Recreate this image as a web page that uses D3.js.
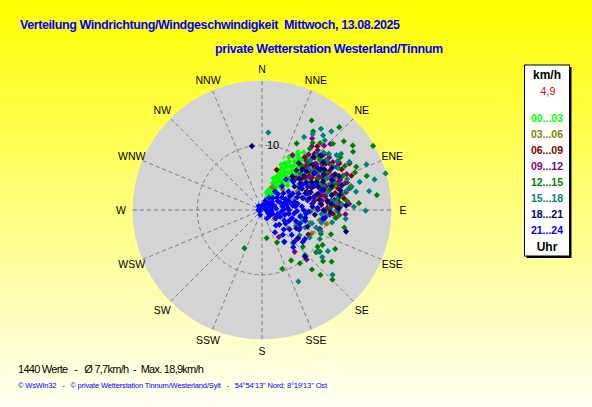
<!DOCTYPE html>
<html>
<head>
<meta charset="utf-8">
<script src="https://cdn.jsdelivr.net/npm/d3@7"></script>
<style>
  body { margin: 0; padding: 0; overflow: hidden; }
  text { font-family: 'Liberation Sans', Arial, sans-serif; white-space: pre; }
</style>
</head>
<body>
<div id="chart"></div>
<script>
const width = 592
const height = 407

// wind direction labels (every 22.5 degrees)
const dirLabels = ['N', 'NNE', 'NE', 'ENE', 'E', 'ESE', 'SE', 'SSE', 'S', 'SSW', 'SW', 'WSW', 'W', 'WNW', 'NW', 'NNW']
const ringTicks = [10]
const hourBins = ['00...03', '03...06', '06...09', '09...12', '12...15', '15...18', '18...21', '21...24']
const hourColors = ['#00ff00', '#808000', '#800000', '#800080', '#008000', '#008080', '#000080', '#0000ff']

// [direction in degrees, speed in km/h], one array per 3-hour bin
const h00 = [[20, 2.0], [28, 2.6], [33, 3.7], [40, 5.0], [25, 5.9], [31, 6.8], [37, 7.7], [39, 6.3], [34, 9.0], [43, 9.3],
  [34, 9.9], [38, 10.0], [22, 4.5], [18, 3.2], [26, 4.2], [30, 5.3], [35, 5.6], [28, 7.2], [33, 8.1], [41, 8.4],
  [24, 6.5], [29, 8.6], [45, 7.0], [36, 4.6], [42, 6.0], [27, 3.0], [31, 2.2], [38, 3.5], [46, 5.5], [32, 10.5],
  [36, 11.0], [40, 10.8], [23, 7.6], [20, 5.2], [44, 8.0], [48, 9.5], [30, 9.5], [26, 8.0], [35, 7.1], [39, 8.8],
  [15, 2.8], [37, 9.6], [21, 3.5], [24, 2.3], [27, 4.8], [29, 6.0], [32, 4.4], [34, 6.4], [36, 8.4], [38, 7.3],
  [40, 9.0], [42, 7.7], [25, 7.0], [27, 9.2], [30, 7.8], [33, 10.2], [31, 4.0], [35, 2.9], [23, 5.5], [26, 6.2],
  [37, 5.2], [44, 9.8]]
const h03 = [[24, 3.9], [110, 6.0], [102, 10.2], [125, 4.9], [105, 7.7], [55, 8.5], [62, 6.2], [48, 7.5], [70, 9.8],
  [80, 5.5], [95, 4.0], [58, 11.0], [66, 12.3], [88, 8.0], [45, 4.5], [75, 7.0], [100, 9.0], [115, 8.5], [52, 9.3],
  [64, 10.6], [78, 8.8], [60, 4.8], [85, 11.4], [92, 6.8], [42, 6.6], [72, 5.2]]
const h06 = [[20, 6.6], [39, 10.5], [56, 13.2], [89, 10.4], [118, 8.1], [88, 12.0], [69, 14.8], [62, 15.3], [45, 11.5],
  [50, 9.5], [55, 10.8], [60, 12.0], [65, 9.0], [70, 11.2], [75, 8.5], [52, 7.8], [58, 6.8], [63, 13.8], [48, 12.8],
  [78, 10.0], [82, 12.8], [44, 9.0], [67, 7.5], [72, 13.5], [54, 12.2], [85, 9.2], [93, 11.0], [41, 13.0], [60, 10.0],
  [73, 6.5], [47, 8.2], [53, 11.7], [57, 9.2], [61, 11.4], [64, 12.6], [68, 10.4], [71, 9.6], [74, 12.2], [77, 11.6],
  [80, 8.2], [83, 10.2], [46, 10.1], [50, 13.4], [59, 13.9], [66, 8.4], [69, 12.9], [43, 11.9], [87, 11.4], [91, 9.7],
  [57, 7.3], [49, 10.9], [54, 9.0], [62, 10.6], [71, 12.4], [76, 9.4], [84, 11.9]]
const h09 = [[29, 9.7], [52, 13.2], [76, 14.1], [93, 12.9], [96, 11.5], [142, 8.2], [137, 9.8], [108, 9.4], [148, 4.9],
  [123, 2.4], [138, 10.3], [109, 9.4], [91, 11.7], [99, 9.6], [46, 14.7], [38, 12.5], [44, 13.8], [58, 14.0], [64, 12.0],
  [70, 10.5], [50, 11.0], [56, 9.0], [62, 8.2], [68, 13.0], [80, 12.0], [86, 13.5], [42, 10.2], [35, 13.5], [115, 6.5],
  [130, 7.0], [84, 10.5], [74, 9.2], [45, 9.6], [48, 12.2], [53, 8.3], [57, 11.4], [60, 13.3], [63, 10.8], [66, 9.5],
  [70, 12.4], [73, 11.0], [77, 9.9], [82, 11.3], [88, 10.1], [40, 11.2], [47, 7.2], [55, 12.6], [67, 14.2], [78, 13.3],
  [90, 8.6], [94, 10.5], [51, 10.4], [43, 12.6], [52, 11.8], [59, 10.2], [65, 11.6], [72, 13.8], [81, 9.4]]
const h12 = [[29, 15.8], [60, 19.8], [27.5, 11.6], [41, 13.7], [38, 12.0], [54.6, 17.2], [57.4, 16.7], [82.6, 17.9],
  [170.6, 4.4], [204.8, 6.5], [161, 9.6], [144.5, 10.1], [125.7, 11.0], [126.6, 13.4], [134.7, 15.3], [109.4, 11.3],
  [136.8, 7.0], [123.5, 10.3], [76, 13.9], [65.4, 16.0], [93.7, 12.0], [120, 10.8], [128, 10.6], [130, 12.3], [118, 12.8],
  [140, 12.0], [150, 9.0], [132, 8.5], [112, 9.8], [47, 15.0], [50, 16.5], [43, 17.5], [37, 13.0], [33, 14.5], [62, 14.5],
  [68, 15.5], [72, 17.0], [86, 15.0], [60, 11.5], [52, 12.5], [70, 12.0], [78, 11.0], [102, 13.0], [155, 5.5], [145, 6.0],
  [138, 13.5], [44, 10.4], [49, 11.8], [53, 10.0], [58, 12.8], [63, 11.0], [67, 13.6], [72, 11.5], [75, 14.2], [79, 12.6],
  [84, 13.2], [88, 10.6], [96, 11.4], [41, 9.2], [56, 14.6], [46, 12.2], [55, 11.2], [61, 9.8], [69, 10.2], [74, 10.7],
  [81, 12.0]]
const h15 = [[4.6, 12.0], [33.7, 14.1], [39.3, 14.9], [41.4, 16.2], [73.5, 19.9], [74.8, 18.0], [66.4, 17.6], [90.4, 16.0],
  [153.1, 12.4], [132.6, 14.8], [116.6, 10.0], [73.9, 15.7], [75.4, 14.3], [61.2, 15.4], [54.6, 15.0], [79, 14.8],
  [136.3, 9.6], [126.5, 10.8], [120, 8.5], [53.6, 14.3], [45, 12.0], [50, 13.5], [58, 12.8], [64, 11.2], [70, 14.0],
  [84, 11.5], [88, 14.2], [96, 13.0], [100, 11.0], [105, 8.0], [112, 7.2], [128, 11.8], [122, 12.0], [60, 8.5], [66, 10.0],
  [55, 7.0], [48, 8.2], [42, 14.5], [30, 13.0], [36, 15.5], [80, 16.8], [95, 10.0], [98, 6.0], [105, 6.5], [115, 5.8],
  [108, 8.8], [92, 7.5], [124, 7.0], [44, 10.8], [47, 13.0], [51, 11.9], [56, 10.3], [61, 13.4], [65, 12.5], [69, 11.3],
  [72, 12.9], [77, 13.4], [82, 10.8], [86, 12.4], [90, 11.6], [94, 9.2], [102, 9.4], [110, 9.6], [57, 13.9],
  [49, 9.6], [53, 12.6], [59, 11.1], [63, 9.2], [68, 12.0], [75, 10.4], [79, 11.9]]
const h18 = [[351, 10.0], [104.4, 13.4], [137.4, 9.8], [127.9, 7.1], [50, 7.5], [55, 9.8], [60, 11.0], [45, 8.8], [42, 7.0],
  [48, 10.5], [52, 12.0], [58, 8.0], [63, 9.5], [67, 11.8], [72, 10.0], [76, 12.5], [80, 9.0], [85, 10.8], [90, 9.5],
  [95, 8.2], [38, 9.2], [44, 11.4], [54, 6.2], [62, 7.0], [70, 8.0], [100, 6.8], [110, 7.5], [118, 6.0], [87, 13.0], [66, 13.0],
  [46, 6.6], [49, 9.1], [53, 10.8], [57, 11.5], [61, 8.8], [64, 12.4], [68, 9.4], [71, 11.4], [74, 8.9], [78, 11.0],
  [82, 10.2], [86, 7.8], [92, 10.6], [41, 8.1], [56, 7.2], [76, 7.6], [89, 11.8], [51, 8.4], [47, 12.4], [55, 11.0],
  [59, 12.6], [65, 10.4], [69, 7.2], [73, 12.9], [79, 12.2], [84, 9.1]]
const h21 = [[60, 0.5], [75, 1.0], [90, 0.8], [100, 1.2], [45, 1.5], [70, 2.0], [85, 2.2], [110, 1.8], [120, 2.5], [60, 2.8],
  [50, 3.0], [80, 3.2], [95, 3.0], [130, 3.5], [115, 3.8], [65, 4.0], [75, 4.5], [90, 4.2], [105, 4.8], [125, 5.2],
  [140, 5.0], [55, 5.0], [70, 5.8], [85, 6.2], [100, 6.0], [118, 6.5], [135, 7.0], [60, 6.8], [78, 7.2], [48, 6.5],
  [40, 4.8], [35, 3.5], [30, 2.2], [95, 1.5], [150, 4.0], [145, 6.0], [128, 8.0], [98, 9.5], [88, 8.6], [65, 8.8],
  [55, 10.0], [72, 9.8], [110, 3.0], [260, 0.5], [200, 0.8], [150, 1.5], [124, 8.0], [97, 9.8], [300, 0.3],
  [50, 2.0], [55, 1.2], [65, 1.6], [80, 1.4], [85, 0.6], [105, 2.5], [115, 1.0], [125, 1.5], [58, 3.6], [68, 3.0],
  [72, 3.6], [82, 4.8], [88, 3.4], [98, 4.2], [102, 3.6], [108, 5.5], [112, 4.5], [120, 4.2], [132, 4.5], [138, 3.2],
  [62, 5.4], [66, 6.2], [74, 6.6], [80, 5.6], [92, 5.4], [95, 6.8], [104, 6.9], [110, 6.2], [52, 4.2], [58, 7.4],
  [63, 7.9], [70, 7.5], [76, 8.2], [83, 7.8], [92, 7.2], [45, 3.5], [42, 2.5], [38, 6.0], [130, 6.0], [140, 7.5],
  [28, 1.2], [330, 0.4], [250, 0.3], [280, 0.5], [320, 0.8], [10, 0.8], [20, 1.5], [64, 4.8], [70, 4.3], [76, 5.2],
  [84, 5.2], [90, 6.4], [86, 4.0], [78, 3.9], [96, 5.0]]
const series = [h00, h03, h06, h09, h12, h15, h18, h21]

const titleText = 'Verteilung Windrichtung/Windgeschwindigkeit  Mittwoch, 13.08.2025'
const subtitleText = 'private Wetterstation Westerland/Tinnum'
const statsText = '1440 Werte   -   Ø 7,7km/h  -  Max. 18,9km/h'
const footerText = '© WsWin32   -   © private Wetterstation Tinnum/Westerland/Sylt   -   54°54\'13\'\' Nord; 8°19\'13\'\' Ost'
const currentSpeed = '4,9'

const cx = 262
const cy = 210
const radius = 129.5

const svg = d3
  .select('#chart')
  .append('svg')
  .attr('width', width)
  .attr('height', height)

const defs = svg.append('defs')
const grad = defs
  .append('linearGradient')
  .attr('id', 'bg')
  .attr('x1', 0)
  .attr('y1', 0)
  .attr('x2', 0)
  .attr('y2', 1)
grad.append('stop').attr('offset', '0%').attr('stop-color', '#ffff00')
grad.append('stop').attr('offset', '100%').attr('stop-color', '#fffff4')

svg
  .append('rect')
  .attr('width', width)
  .attr('height', height)
  .attr('fill', 'url(#bg)')

const rScale = d3.scaleLinear().domain([0, 20]).range([0, radius])
const angleScale = d3.scaleLinear().domain([0, 360]).range([0, 2 * Math.PI])

function px(dir, r) {
  return cx + r * Math.sin(angleScale(dir))
}
function py(dir, r) {
  return cy - r * Math.cos(angleScale(dir))
}

const plot = svg.append('g')

plot
  .append('circle')
  .attr('cx', cx)
  .attr('cy', cy)
  .attr('r', rScale(20))
  .attr('fill', '#d4d4d4')

plot
  .selectAll('.ring')
  .data(ringTicks)
  .enter()
  .append('circle')
  .attr('class', 'ring')
  .attr('cx', cx)
  .attr('cy', cy)
  .attr('r', d => rScale(d))
  .attr('fill', 'none')
  .attr('stroke', '#808080')
  .attr('stroke-dasharray', '4,3')

plot
  .selectAll('.spoke')
  .data(dirLabels)
  .enter()
  .append('line')
  .attr('class', 'spoke')
  .attr('x1', (d, i) => px(i * 22.5, 6))
  .attr('y1', (d, i) => py(i * 22.5, 6))
  .attr('x2', (d, i) => px(i * 22.5, rScale(20)))
  .attr('y2', (d, i) => py(i * 22.5, rScale(20)))
  .attr('stroke', '#808080')
  .attr('stroke-dasharray', '4,3')

plot
  .selectAll('.ring-label')
  .data(ringTicks)
  .enter()
  .append('text')
  .attr('class', 'ring-label')
  .attr('x', cx + 5)
  .attr('y', d => cy - rScale(d) + 4)
  .attr('font-size', '11px')
  .attr('fill', '#000')
  .text(d => d)

svg
  .selectAll('.dir-label')
  .data(dirLabels)
  .enter()
  .append('text')
  .attr('class', 'dir-label')
  .attr('x', (d, i) => px(i * 22.5, 141))
  .attr('y', (d, i) => py(i * 22.5, 141) + 4)
  .attr('text-anchor', 'middle')
  .attr('font-size', '10.5px')
  .attr('fill', '#000')
  .text(d => d)

// points, drawn in time order so the late hours sit on top
const diamond = 'M0,-3.1L3.1,0L0,3.1L-3.1,0Z'
series.forEach((points, i) => {
  plot
    .append('g')
    .selectAll('path')
    .data(points)
    .enter()
    .append('path')
    .attr('d', diamond)
    .attr('fill', hourColors[i])
    .attr('transform', d => 'translate(' + px(d[0], rScale(d[1])) + ',' + py(d[0], rScale(d[1])) + ')')
})

// titles
svg
  .append('text')
  .attr('x', 20)
  .attr('y', 29)
  .attr('font-size', '12.5px')
  .attr('font-weight', 'bold')
  .attr('fill', '#0000ff')
  .attr('textLength', 380)
  .text(titleText)

svg
  .append('text')
  .attr('x', 215)
  .attr('y', 53)
  .attr('font-size', '12.5px')
  .attr('font-weight', 'bold')
  .attr('fill', '#0000ff')
  .attr('textLength', 228)
  .text(subtitleText)

// legend box
const legend = svg.append('g')
legend
  .append('rect')
  .attr('x', 526.5)
  .attr('y', 67)
  .attr('width', 45)
  .attr('height', 191)
  .attr('fill', '#000')
legend
  .append('rect')
  .attr('x', 524.5)
  .attr('y', 65)
  .attr('width', 45)
  .attr('height', 191)
  .attr('fill', '#fff')
  .attr('stroke', '#000')

legend
  .append('text')
  .attr('x', 547)
  .attr('y', 79)
  .attr('text-anchor', 'middle')
  .attr('font-size', '12px')
  .attr('font-weight', 'bold')
  .text('km/h')

legend
  .append('text')
  .attr('x', 548)
  .attr('y', 95)
  .attr('text-anchor', 'middle')
  .attr('font-size', '11px')
  .attr('fill', '#ff0000')
  .text(currentSpeed)

legend
  .selectAll('.bin')
  .data(hourBins)
  .enter()
  .append('text')
  .attr('class', 'bin')
  .attr('x', 547)
  .attr('y', (d, i) => 121.7 + i * 16.1)
  .attr('text-anchor', 'middle')
  .attr('font-size', '10.5px')
  .attr('font-weight', 'bold')
  .attr('fill', (d, i) => hourColors[i])
  .text(d => d)

legend
  .append('text')
  .attr('x', 547)
  .attr('y', 251)
  .attr('text-anchor', 'middle')
  .attr('font-size', '12px')
  .attr('font-weight', 'bold')
  .text('Uhr')

// stats and footer
svg
  .append('text')
  .attr('x', 18)
  .attr('y', 373)
  .attr('font-size', '11px')
  .attr('fill', '#000')
  .attr('textLength', 186)
  .text(statsText)

svg
  .append('text')
  .attr('x', 18)
  .attr('y', 388)
  .attr('font-size', '7.5px')
  .attr('fill', '#0000ff')
  .attr('textLength', 309)
  .text(footerText)
</script>
</body>
</html>
